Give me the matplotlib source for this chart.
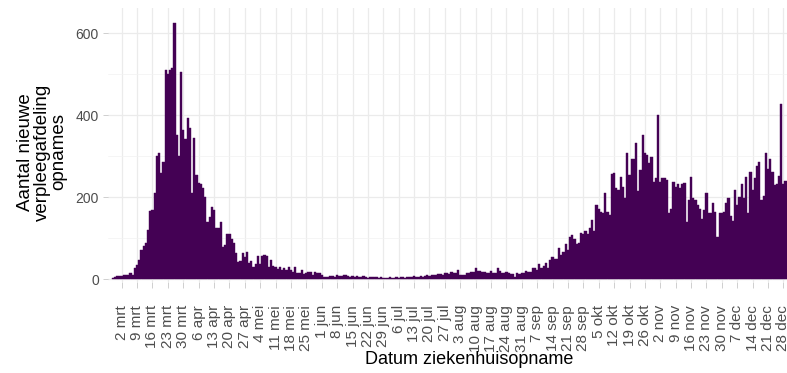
import pandas as pd
import matplotlib
matplotlib.use("Agg")
import matplotlib.pyplot as plt
from matplotlib.ticker import MultipleLocator

# daily new ward admissions, first bar = 27 feb 2020
start_date = "2020-02-27"
feb = [3, 4, 7]
mrt = [8, 8, 9, 9, 10, 15, 10, 28, 34, 46, 72, 80, 89, 120, 167, 168, 210, 300, 308, 258,
       285, 510, 500, 511, 514, 625, 351, 300, 506, 363, 341]
apr = [392, 368, 209, 345, 254, 235, 233, 221, 200, 140, 152, 175, 168, 124, 124, 140, 79, 83,
       111, 111, 97, 87, 63, 42, 45, 63, 53, 67, 40, 44]
mei = [30, 38, 56, 38, 56, 58, 56, 30, 46, 32, 30, 25, 30, 22, 26, 22, 30, 22, 18, 30, 15, 14,
       22, 12, 14, 17, 18, 10, 18, 14, 14]
jun = [10, 6, 4, 6, 7, 7, 6, 10, 7, 8, 9, 10, 7, 6, 7, 5, 8, 4, 6, 7, 5, 3, 5, 6, 4, 5, 3, 4, 2, 3]
jul = [3, 4, 2, 3, 5, 3, 4, 6, 3, 5, 6, 4, 7, 5, 6, 8, 5, 7, 9, 8, 11, 9, 10, 13, 12, 11, 15,
       14, 12, 18, 16]
aug = [14, 22, 10, 10, 10, 14, 14, 18, 18, 26, 20, 20, 18, 18, 14, 14, 20, 16, 16, 28, 20, 14,
       14, 18, 15, 12, 12, 6, 14, 12, 15]
sep = [14, 20, 18, 18, 26, 28, 22, 38, 26, 32, 40, 26, 46, 53, 48, 48, 75, 58, 67, 85, 71, 103,
       107, 99, 85, 89, 113, 111, 118, 111]
okt = [124, 144, 118, 180, 172, 164, 160, 211, 164, 156, 256, 258, 221, 217, 248, 224, 197, 307,
       254, 292, 294, 331, 215, 266, 351, 307, 302, 282, 298, 237, 246]
nov = [400, 237, 246, 246, 241, 160, 172, 237, 224, 233, 221, 233, 235, 140, 193, 248, 197, 193,
       180, 172, 146, 168, 209, 162, 162, 186, 164, 103, 160, 162]
dec = [164, 185, 199, 154, 142, 217, 180, 201, 232, 199, 248, 160, 262, 217, 246, 276, 286, 193,
       202, 307, 268, 294, 262, 229, 232, 251, 427, 233, 240]

month_abbr = ["jan", "feb", "mrt", "apr", "mei", "jun", "jul", "aug", "sep", "okt", "nov", "dec"]
y_ticks = [0, 200, 400, 600]

values = feb + mrt + apr + mei + jun + jul + aug + sep + okt + nov + dec
dates = pd.date_range(start_date, periods=len(values), freq="D")
tick_dates = pd.date_range("2020-03-02", "2020-12-28", freq="7D")
tick_labels = [f"{d.day} {month_abbr[d.month - 1]}" for d in tick_dates]

plt.rcParams["font.family"] = ["Liberation Sans", "DejaVu Sans"]

W, H = 787, 373
fig = plt.figure(figsize=(W / 100, H / 100), dpi=100)
# panel runs past the right edge (the reference is cropped there)
left, right, top, bottom = 108, 830, 8, 282
ax = fig.add_axes([left / W, 1 - bottom / H, (right - left) / W, (bottom - top) / H])

bar_color = "#440154"
ax.bar(dates, values, width=1.0, color=bar_color, edgecolor=bar_color, linewidth=0.3,
       align="center", zorder=2)

t0 = pd.Timestamp(start_date)
ax.set_xlim(t0 - pd.Timedelta(days=2.23), t0 + pd.Timedelta(days=326.2))
ax.set_ylim(-7, 661)

ax.set_xticks(tick_dates)
ax.set_xticklabels(tick_labels, rotation=90, ha="center", va="top")
ax.set_yticks(y_ticks)
ax.yaxis.set_minor_locator(MultipleLocator(100))

ax.set_axisbelow(True)
ax.grid(which="major", axis="both", color="#EBEBEB", linewidth=0.9, zorder=0)
ax.grid(which="minor", axis="y", color="#F2F2F2", linewidth=0.5, zorder=0)
for s in ax.spines.values():
    s.set_visible(False)

ax.tick_params(axis="x", which="major", length=4.5, width=0.6, color="#C8C8C8",
               labelcolor="#4D4D4D", labelsize=11, pad=12)
ax.tick_params(axis="y", which="major", length=3.5, width=0.6, color="#C8C8C8",
               labelcolor="#4D4D4D", labelsize=10, pad=3)
ax.tick_params(axis="y", which="minor", length=0)

ax.set_xlabel("Datum ziekenhuisopname", fontsize=13, color="black", va="center")
ax.xaxis.set_label_coords(0.5, (bottom - 360) / (bottom - top))
ax.set_ylabel("Aantal nieuwe\nverpleegafdeling\nopnames", fontsize=13.5, color="black",
              va="center", ha="center", linespacing=0.95)
ax.yaxis.set_label_coords((42 - left) / (right - left), (bottom - 152) / (bottom - top))

fig.savefig("out.png", dpi=100)
